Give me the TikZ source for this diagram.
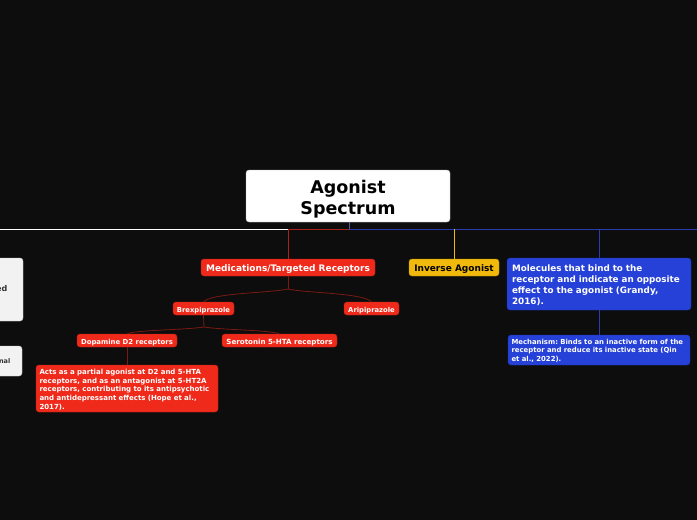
\documentclass[tikz,border=0pt]{standalone}
\usepackage{fontspec}
\setmainfont{DejaVu Sans}
\frenchspacing
\definecolor{bg}{HTML}{0D0D0D}
\definecolor{nred}{HTML}{EF2A1B}
\definecolor{nblue}{HTML}{2641D8}
\definecolor{nyel}{HTML}{F0B90B}
\definecolor{lred}{HTML}{7A1A14}
\definecolor{mred}{HTML}{A82418}
\definecolor{lblue}{HTML}{2B3CB0}
\definecolor{lgray}{HTML}{F2F2F2}
\tikzset{
  box/.style={rounded corners=3pt, inner sep=0pt, outer sep=0pt, font=\bfseries},
  redbox/.style={box, fill=nred, draw=nred!80!black, line width=0.4pt, text=white},
  bluebox/.style={box, fill=nblue, draw=nblue!80!black, line width=0.4pt, text=white},
  oneline/.style={text height=0.8em, text depth=0pt},
  tree/.style={draw=lred, line width=0.8pt},
}
\begin{document}
\begin{tikzpicture}[x=1pt,y=-1pt]
\useasboundingbox (0,0) rectangle (697,520);
\fill[bg] (0,0) rectangle (697,520);
\begin{scope}
\clip (0,0) rectangle (697,520);
% main horizontal line
\coordinate (hl) at (0,229);
\coordinate (hm) at (288,229);
\coordinate (hc) at (349,229);
\coordinate (hr) at (697,229);
\draw[white, line width=0.9pt] (hl) -- (hm);
\draw[mred, line width=0.9pt] (hm) -- (hc);
\draw[lblue, line width=0.9pt] (hc) -- (hr);

% nodes
\node[box, fill=white, draw=gray!60, minimum width=204pt, minimum height=52pt, align=center,
  text height=38pt, text depth=1.4pt,
  font=\bfseries\fontsize{17.5}{21}\selectfont] (root) at (348,196) {Agonist\\Spectrum};
\node[redbox, oneline, minimum width=174pt, minimum height=17pt, font=\bfseries\fontsize{9}{11}\selectfont] (med) at (288,267.5) {Medications/Targeted Receptors};
\node[box, oneline, fill=nyel, draw=nyel!80!black, line width=0.4pt, text=black, minimum width=90pt, minimum height=17pt, font=\bfseries\fontsize{9}{11}\selectfont] (inv) at (454,267.5) {Inverse Agonist};
\node[bluebox, minimum width=184pt, minimum height=52pt, text width=174pt, align=left,
  text height=8pt, text depth=33.6pt,
  font=\bfseries\fontsize{8.8}{11}\selectfont] (mol) at (599,284) {Molecules that bind to the\\receptor and indicate an opposite\\effect to the agonist (Grandy,\\2016).};
\node[bluebox, minimum width=182pt, minimum height=30pt, text width=175pt, align=left,
  text height=6.3pt, text depth=18.1pt,
  font=\bfseries\fontsize{6.9}{8.8}\selectfont] (mech) at (599,350) {Mechanism: Binds to an inactive form of the\\receptor and reduce its inactive state (Qin\\et al., 2022).};
\node[redbox, oneline, minimum width=61pt, minimum height=13pt, font=\bfseries\fontsize{6.8}{8}\selectfont] (brex) at (203.5,308.5) {Brexpiprazole};
\node[redbox, oneline, minimum width=55pt, minimum height=13pt, font=\bfseries\fontsize{6.8}{8}\selectfont] (ari) at (371.5,308.5) {Aripiprazole};
\node[redbox, oneline, minimum width=100pt, minimum height=13pt, font=\bfseries\fontsize{6.9}{8}\selectfont] (dop) at (127,340.5) {Dopamine D2 receptors};
\node[redbox, oneline, minimum width=115pt, minimum height=13pt, font=\bfseries\fontsize{7.1}{8}\selectfont] (ser) at (279.5,340.5) {Serotonin 5-HTA receptors};
\node[redbox, minimum width=182pt, minimum height=47pt, text width=175pt, align=left,
  text height=7pt, text depth=35pt,
  font=\bfseries\fontsize{7}{8.7}\selectfont] (acts) at (127,388.5) {Acts as a partial agonist at D2 and 5-HTA\\receptors, and as an antagonist at 5-HT2A\\receptors, contributing to its antipsychotic\\and antidepressant effects (Hope et al.,\\2017).};

% left clipped nodes
\node[box, fill=lgray, draw=gray!40, minimum width=80pt, minimum height=63pt] (left1) at (-17,289.5) {};
\node[anchor=east, inner sep=0pt, text=black!80, font=\bfseries\fontsize{8}{10}\selectfont] (left1t) at (7.5,289) {ed};
\node[box, fill=lgray, draw=gray!40, minimum width=80pt, minimum height=30pt] (left2) at (-18,361) {};
\node[anchor=east, inner sep=0pt, text=black!80, font=\bfseries\fontsize{6.5}{8}\selectfont] (left2t) at (10.5,361) {nal};

% connectors from main line
\draw[gray!70!blue, line width=0.9pt] (root.south -| hc) -- (hc);
\draw[mred, line width=0.9pt] (hm) -- (hm |- med.north);
\draw[nyel, line width=0.9pt] (inv.north |- hc) -- (inv.north);
\draw[lblue, line width=0.9pt] (mol.north |- hc) -- (mol.north);
\draw[lblue, line width=0.9pt] (mol.south) -- (mech.north);

% tree under medications
\coordinate (j1) at (288,289);
\draw[tree] (med.south) -- (j1);
\draw[tree] (j1) .. controls (270,293) and (210,293) .. (brex.north);
\draw[tree] (j1) .. controls (305,293) and (365,293) .. (ari.north);
\coordinate (j2) at (204,327);
\draw[tree] (brex.south) -- (j2);
\draw[tree] (j2) .. controls (185,330) and (133,330) .. (dop.north);
\draw[tree] (j2) .. controls (222,330) and (272,330) .. (ser.north);
\draw[tree] (dop.south) -- (acts.north);
\end{scope}
\end{tikzpicture}
\end{document}
